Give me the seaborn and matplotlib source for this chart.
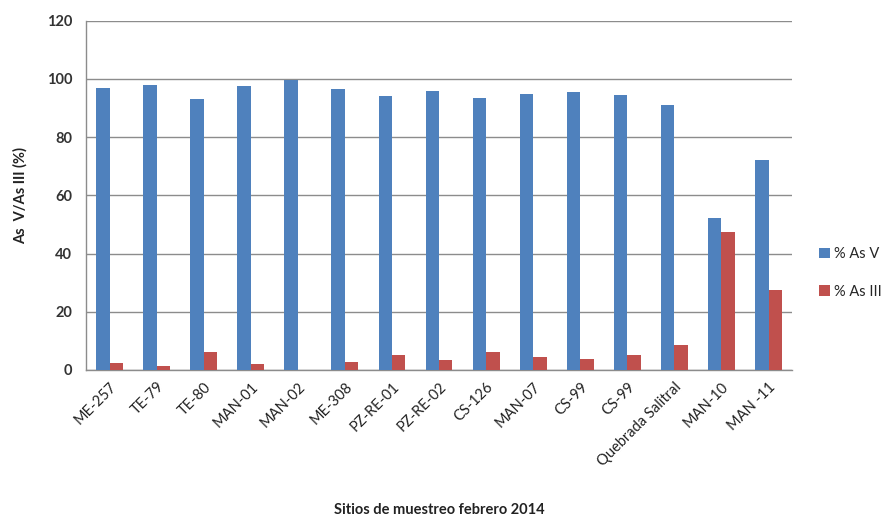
import matplotlib
matplotlib.use("Agg")
import matplotlib.pyplot as plt
import seaborn as sns
import pandas as pd
import numpy as np
from matplotlib.ticker import FixedLocator

sitios = ["ME-257", "TE-79", "TE-80", "MAN-01", "MAN-02", "ME-308", "PZ-RE-01",
          "PZ-RE-02", "CS-126", "MAN-07", "CS-99", "CS-99 ", "Quebrada Salitral",
          "MAN-10", "MAN -11"]
as_v = [97.0, 98.0, 93.2, 97.4, 99.8, 96.7, 94.3, 96.0, 93.6, 94.9, 95.6, 94.6, 91.0, 52.2, 72.0]
as_iii = [2.5, 1.4, 6.3, 2.1, 0.0, 2.9, 5.3, 3.5, 6.1, 4.6, 3.9, 5.0, 8.6, 47.3, 27.4]
series = ["% As V", "% As III"]
colores = ["#4F81BD", "#C0504D"]
y_ticks = [0, 20, 40, 60, 80, 100, 120]

df = pd.DataFrame({
    "sitio": sitios * 2,
    "valor": as_v + as_iii,
    "serie": [series[0]] * len(sitios) + [series[1]] * len(sitios),
})

sns.set_style("white")
plt.rcParams["font.family"] = ["Lato", "DejaVu Sans"]

fig = plt.figure(figsize=(8.85, 5.19), dpi=100)
ax = fig.add_axes([0.0972, 0.2871, 0.7978, 0.673])

sns.barplot(data=df, x="sitio", y="valor", hue="serie", order=sitios,
            hue_order=series, palette=colores, width=0.57, saturation=1,
            errorbar=None, ax=ax, zorder=3, linewidth=0)

ax.set_ylim(0, 120)
ax.set_xlim(-0.5, len(sitios) - 0.5)
ax.set_yticks(y_ticks)
ax.set_yticklabels([str(t) for t in y_ticks], fontsize=10.5, fontweight="bold", color="#333333")
ax.yaxis.grid(True, color="#8C8C8C", linewidth=1.0, zorder=0)
ax.set_axisbelow(True)

ax.set_xticks(range(len(sitios)))
ax.set_xticklabels([s.strip() for s in sitios], rotation=45, ha="right",
                   rotation_mode="anchor", fontsize=10.5, color="#222222")
ax.xaxis.set_minor_locator(FixedLocator(np.arange(-0.5, len(sitios), 1.0)))
ax.tick_params(axis="x", which="major", length=0, pad=7)
ax.tick_params(axis="x", which="minor", length=5, color="#8C8C8C", width=1)
ax.tick_params(axis="y", which="major", length=5, color="#8C8C8C", width=1, pad=5)

for side in ["top", "right"]:
    ax.spines[side].set_visible(False)
for side in ["left", "bottom"]:
    ax.spines[side].set_color("#8C8C8C")
    ax.spines[side].set_linewidth(1.0)

ax.set_ylabel("As  V/As III (%)", fontsize=10.5, fontweight="bold", color="#222222", labelpad=14)
ax.set_xlabel("")
fig.text(0.496, 0.018, "Sitios de muestreo febrero 2014", fontsize=10.5,
         fontweight="bold", color="#222222", ha="center", va="center")

leg = ax.legend(loc="center left", bbox_to_anchor=(1.02, 0.278), frameon=False,
                fontsize=10.5, handlelength=0.7, handleheight=0.7, handletextpad=0.3,
                labelspacing=1.6)

fig.savefig("out.png", dpi=100)
